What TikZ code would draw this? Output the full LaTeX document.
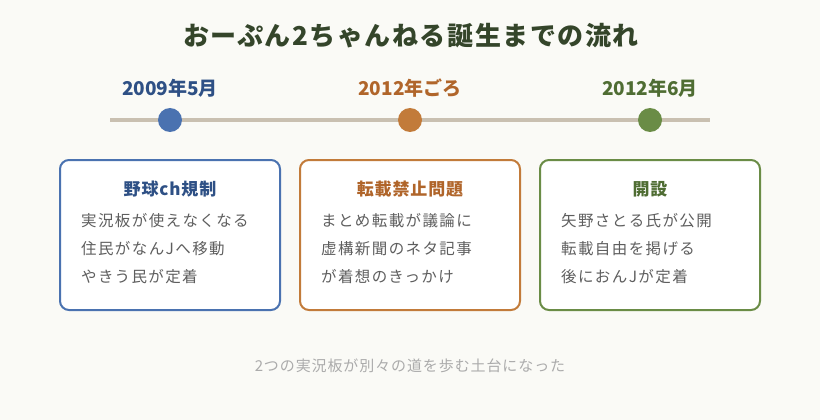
\documentclass[tikz,border=0pt]{standalone}
\usepackage{fontspec}
\setmainfont{Noto Sans CJK JP}
\definecolor{bg}{HTML}{FAFAF6}
\definecolor{tline}{HTML}{C9C0B1}
\definecolor{cblue}{HTML}{4A72B0}
\definecolor{tblue}{HTML}{2E5085}
\definecolor{corange}{HTML}{C27B3A}
\definecolor{torange}{HTML}{B0652A}
\definecolor{cgreen}{HTML}{6A8C46}
\definecolor{tgreen}{HTML}{4F6D33}
\definecolor{ttitle}{HTML}{34452A}
\definecolor{tbody}{HTML}{5E5E5E}
\definecolor{tfoot}{HTML}{ABABAB}
\tikzset{
  datelabel/.style={font=\fontsize{19}{22}\selectfont\bfseries, inner sep=0pt},
  dot/.style={circle, minimum size=24pt, inner sep=0pt},
  card/.style={draw, line width=2pt, rounded corners=9pt, fill=white, minimum width=220pt, minimum height=150pt, inner sep=0pt},
  cardtitle/.style={font=\fontsize{17}{20}\selectfont\bfseries\addfontfeatures{LetterSpace=5}, inner sep=0pt},
  cardline/.style={font=\fontsize{15.5}{18}\selectfont\addfontfeatures{LetterSpace=9}, text=tbody, inner sep=0pt, anchor=west},
}
\begin{document}
\begin{tikzpicture}[x=1pt,y=-1pt]
\useasboundingbox[fill=bg] (0,0) rectangle (820,420);
\node[font=\fontsize{26}{30}\selectfont\bfseries\addfontfeatures{LetterSpace=6}, text=ttitle, inner sep=0pt] (title) at (411,36) {おーぷん2ちゃんねる誕生までの流れ};
% timeline
\coordinate (tl) at (110,120);
\coordinate (tr) at (710,120);
\draw[tline, line width=4pt] (tl) -- (tr);
\node[dot, fill=cblue] (p1) at (170,120) {};
\node[dot, fill=corange] (p2) at (410,120) {};
\node[dot, fill=cgreen] (p3) at (650,120) {};
\node[datelabel, text=tblue] (d1) at (170,88) {2009年5月};
\node[datelabel, text=torange] (d2) at (410,88) {2012年ごろ};
\node[datelabel, text=tgreen] (d3) at (650,88) {2012年6月};
% cards
\node[card, draw=cblue] (b1) at (170,235) {};
\node[card, draw=corange] (b2) at (410,235) {};
\node[card, draw=cgreen] (b3) at (650,235) {};
\node[cardtitle, text=tblue] (h1) at (170,189) {野球ch規制};
\node[cardtitle, text=torange] (h2) at (410,189) {転載禁止問題};
\node[cardtitle, text=tgreen] (h3) at (650,189) {開設};
\node[cardline] (t1a) at (81,221) {実況板が使えなくなる};
\node[cardline] (t1b) at (81,249) {住民がなんJへ移動};
\node[cardline] (t1c) at (81,277) {やきう民が定着};
\node[cardline] (t2a) at (321,221) {まとめ転載が議論に};
\node[cardline] (t2b) at (321,249) {虚構新聞のネタ記事};
\node[cardline] (t2c) at (321,277) {が着想のきっかけ};
\node[cardline] (t3a) at (561,221) {矢野さとる氏が公開};
\node[cardline] (t3b) at (561,249) {転載自由を掲げる};
\node[cardline] (t3c) at (561,277) {後におんJが定着};
\node[font=\fontsize{15}{18}\selectfont\addfontfeatures{LetterSpace=6}, text=tfoot, inner sep=0pt] (foot) at (410,366) {2つの実況板が別々の道を歩む土台になった};
\end{tikzpicture}
\end{document}
